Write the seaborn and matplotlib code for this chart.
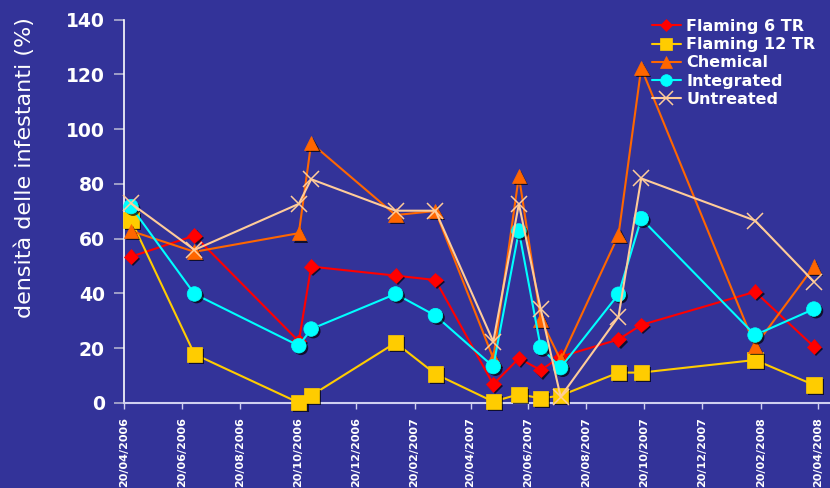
import matplotlib
matplotlib.use("Agg")
import matplotlib.pyplot as plt
import matplotlib.dates as mdates
import matplotlib.patheffects as pe
from matplotlib.lines import Line2D
import pandas as pd
import seaborn as sns

# sampling dates
dates = ["2006-04-27", "2006-07-03", "2006-10-21", "2006-11-03", "2007-01-31", "2007-03-14",
         "2007-05-14", "2007-06-10", "2007-07-03", "2007-07-24", "2007-09-23", "2007-10-17",
         "2008-02-14", "2008-04-16"]
flaming_6 = [53.4, 61.1, 22.5, 49.8, 46.5, 44.9, 6.8, 16.3, 12.0, 16.9, 23.2, 28.5, 40.6, 20.6]
flaming_12 = [66.8, 17.8, 0.1, 2.7, 22.0, 10.6, 0.5, 3.2, 1.7, 2.7, 11.1, 11.1, 15.7, 6.6]
chemical = [62.8, 55.2, 62.0, 94.9, 68.6, 70.1, 16.3, 82.9, 30.5, 15.7, 61.3, 122.3, 20.8, 49.8]
integrated = [71.7, 39.8, 20.9, 27.0, 39.8, 31.9, 13.3, 62.8, 20.3, 12.9, 39.7, 67.3, 24.8, 34.3]
untreated = [72.9, 55.9, 72.7, 81.7, 70.2, 70.2, 22.4, 72.7, 34.2, 2.3, 31.5, 82.0, 66.6, 44.3]

series_names = ["Flaming 6 TR", "Flaming 12 TR", "Chemical", "Integrated", "Untreated"]
series_values = [flaming_6, flaming_12, chemical, integrated, untreated]
colors = ["#FF0000", "#FFCC00", "#FF6600", "#00FFFF", "#FFCC99"]
markers = ["D", "s", "^", "o", "x"]
msizes = [7.5, 11, 10.5, 10.5, 12]

bg = "#333399"
sns.set_style("white")
plt.rcParams["font.family"] = ["DejaVu Sans"]

df = pd.DataFrame({"date": pd.to_datetime(dates)})
for name, vals in zip(series_names, series_values):
    df[name] = vals

fig = plt.figure(figsize=(8.3, 4.88), dpi=100, facecolor=bg)
ax = fig.add_axes([124.3 / 830, 1 - 403 / 488, (830 - 124.3) / 830, (403 - 19.5) / 488])
ax.set_facecolor(bg)

handles = []
for i, name in enumerate(series_names):
    sns.lineplot(data=df, x="date", y=name, color=colors[i], linewidth=1.5,
                 sort=False, ax=ax, zorder=2 + 2 * i, clip_on=False)
    mk = markers[i]
    if mk == "x":
        ax.plot(df["date"], df[name], linestyle="none", marker=mk, ms=msizes[i],
                mew=1.1, color=colors[i], zorder=3 + 2 * i, clip_on=False)
    else:
        ax.plot(df["date"], df[name], linestyle="none", marker=mk, ms=msizes[i],
                mfc=colors[i], mec=colors[i], mew=0.5, zorder=3 + 2 * i, clip_on=False,
                path_effects=[pe.SimplePatchShadow(offset=(1.5, -1.5), shadow_rgbFace="black", alpha=0.7),
                              pe.Normal()])
    handles.append(Line2D([], [], color=colors[i], linewidth=1.5, marker=mk,
                          ms=msizes[i] * 0.8, mfc=colors[i], mec=colors[i],
                          mew=1.1 if mk == "x" else 0.5))

ax.set_ylim(0, 140)
ax.set_yticks(range(0, 141, 20))
ax.set_xlim(pd.Timestamp("2006-04-20"), pd.Timestamp("2008-05-03"))
xt = pd.date_range("2006-04-20", "2008-04-20", freq=pd.DateOffset(months=2))
ax.set_xticks(xt)
ax.xaxis.set_major_formatter(mdates.DateFormatter("%d/%m/%Y"))

for s in ["top", "right"]:
    ax.spines[s].set_visible(False)
ax.spines["left"].set_color("white")
ax.spines["left"].set_linewidth(1.2)
ax.spines["bottom"].set_color("#d0d0f0")
ax.spines["bottom"].set_linewidth(1.5)

ax.tick_params(axis="y", direction="out", length=7, width=1.2, color="#b0b0d0",
               labelcolor="white", labelsize=13.5, pad=7, left=True)
ax.tick_params(axis="x", direction="out", length=4, width=1, color="#d0d0f0",
               labelcolor="white", labelsize=8, pad=6, bottom=True, labelrotation=90)
for lab in ax.get_yticklabels() + ax.get_xticklabels():
    lab.set_fontweight("bold")

ax.set_xlabel("")
ax.set_ylabel("densità delle infestanti (%)", color="white", fontsize=16)
ax.yaxis.set_label_coords(-0.126, 0.615)

leg = fig.legend(handles, series_names, loc="upper left", bbox_to_anchor=(652 / 830, 1 - 19 / 488),
                 frameon=False, borderpad=0, borderaxespad=0, handlelength=1.8,
                 handletextpad=0.35, labelspacing=0.2,
                 prop={"weight": "bold", "size": 11.5})
for t in leg.get_texts():
    t.set_color("white")

fig.savefig("out.png", dpi=100, facecolor=bg)
